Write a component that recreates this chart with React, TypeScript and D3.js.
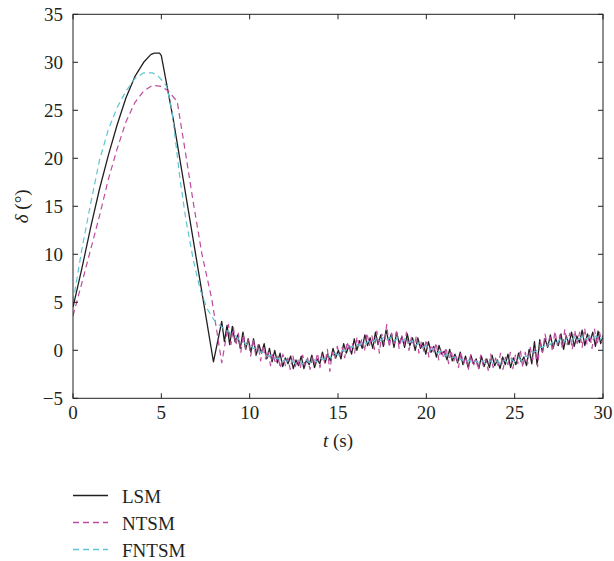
import React from "react";
import * as d3 from "d3";

const timeTicks = [0, 5, 10, 15, 20, 25, 30];
const deltaTicks = [-5, 0, 5, 10, 15, 20, 25, 30, 35];
const seriesNames = ["LSM", "NTSM", "FNTSM"];

// LSM: transient (t, value) then chattering samples
const lsmTransientT = [0, 0.5, 1, 1.5, 2, 2.5, 3, 3.5, 4, 4.4, 4.6, 4.9, 5.0, 5.68, 7.95, 8.42];
const lsmTransientV = [4.5, 8.5, 12.8, 16.8, 20.3, 23.5, 26.3, 28.5, 30.0, 30.8, 30.95, 30.95, 30.7, 24.0, -1.2, 3.0];
const lsmChatterStart = 8.57;
const lsmChatterStep = 0.15;
const lsmChatter = [
  0.9, 2.6, 0.6, 2.5, 0.9, 1.6, 0.2, 1.9, 0.1, 1.2,
  -0.2, 1.2, -0.5, 0.6, -0.3, 0.7, -0.9, 0.2, -1.2, 0.0,
  -1.3, -0.3, -1.7, -0.8, -1.4, -0.6, -1.9, -1.0, -1.6, -0.6,
  -1.9, -1.0, -1.5, -0.5, -1.8, -0.9, -1.4, -0.2, -1.3, -0.4,
  -1.1, 0.2, -0.8, 0.0, -0.9, 0.7, -0.3, 0.5, -0.4, 1.2,
  0.0, 1.0, 0.2, 1.6, 0.5, 1.3, 0.2, 1.9, 0.6, 1.6,
  0.4, 2.1, 0.9, 1.7, 0.3, 1.9, 0.7, 1.4, 0.3, 1.7,
  0.5, 1.3, 0.0, 1.3, 0.2, 0.8, -0.4, 0.9, -0.2, 0.4,
  -0.7, 0.5, -0.4, -0.1, -1.0, 0.1, -1.1, -0.4, -1.3, -0.2,
  -1.5, -0.6, -1.8, -0.5, -1.4, -0.9, -1.9, -0.6, -1.7, -0.9,
  -1.8, -0.5, -1.6, -1.0, -1.9, -0.7, -1.5, -0.4, -1.8, -0.8,
  -1.5, -0.3, -1.2, -0.7, -1.6, 0.1, -1.4, 0.9, -1.5, 1.1,
  -0.2, 1.2, 0.3, 1.6, 0.2, 1.2, 0.5, 1.7, 0.1, 1.5,
  0.6, 1.9, 0.4, 1.5, 0.8, 2.1, 0.5, 1.7, 0.9, 1.9,
  0.4, 2.0, 0.7, 1.6,
];

// NTSM
const ntsmTransientT = [0, 0.5, 1, 1.5, 2, 2.5, 3, 3.5, 4, 4.5, 5, 5.4, 5.9, 6.4, 6.8, 7.3, 7.86, 8.42, 8.8];
const ntsmTransientV = [3.6, 7.0, 10.5, 14.0, 17.8, 21.0, 23.8, 25.8, 27.0, 27.6, 27.5, 27.0, 25.9, 20.2, 15.5, 10.0, 5.3, -1.3, 2.7];
const ntsmChatterStart = 8.94;
const ntsmChatterStep = 0.14;
const ntsmChatter = [
  0.6, 2.4, 0.5, 1.8, -0.2, 1.7, 0.1, 1.1, -0.6, 1.2,
  -0.5, 0.6, -1.1, 0.5, -0.9, -0.1, -1.6, -0.3, -1.4, -0.6,
  -1.9, -0.4, -1.6, -0.8, -2.0, -0.5, -1.7, -0.9, -1.9, -0.5,
  -1.6, -0.8, -2.0, -0.6, -1.5, -0.3, -1.8, -0.4, -1.4, 0.1,
  -2.2, -0.2, -0.9, 0.4, -0.6, 0.3, -0.8, 0.9, -0.2, 0.8,
  -0.3, 1.4, 0.3, 1.2, -0.1, 1.8, 0.5, 1.5, 0.1, 2.0,
  -0.3, 1.7, 0.6, 2.7, 0.3, 1.8, 0.7, 2.1, 0.2, 1.6,
  0.5, 1.9, 0.0, 1.4, 0.4, 1.5, -0.3, 0.9, -0.1, 1.1,
  -0.7, 0.6, -0.3, 0.8, -1.0, 0.2, -0.8, 0.3, -1.4, 0.0,
  -1.2, -0.4, -1.8, -0.2, -1.5, -0.7, -2.0, -0.4, -1.7, -0.8,
  -2.0, -0.5, -1.6, -0.9, -2.1, -0.4, -1.8, -0.8, -1.6, -0.3,
  -2.0, -0.7, -1.5, -0.2, -1.9, -0.5, -1.4, 0.1, -1.8, -0.2,
  -1.4, 0.3, -1.0, 0.2, -1.7, 1.0, -0.2, 1.7, 0.4, 1.4,
  -0.1, 2.0, 0.5, 1.6, 0.2, 2.2, 0.6, 1.8, 0.1, 2.1,
  0.7, 1.9, 0.3, 2.3, 0.6, 1.7, 0.2, 2.2, 0.5, 1.9, 0.8,
];

// FNTSM
const fntsmTransientT = [0, 0.5, 1, 1.5, 2, 2.5, 3, 3.5, 4, 4.5, 4.8, 5.1, 5.3, 5.6, 6.06, 6.4, 6.8, 7.2, 7.6, 8.0];
const fntsmTransientV = [5.0, 10.5, 15.3, 19.8, 23.0, 25.3, 27.0, 28.3, 28.9, 28.9, 28.6, 28.0, 27.5, 25.0, 17.8, 13.5, 9.5, 6.3, 4.3, 3.1];
const fntsmChatterStart = 8.2;
const fntsmChatterStep = 0.2;
const fntsmChatter = [
  2.7, 2.5, 2.1, 2.0, 1.6, 1.5, 1.1, 1.0, 0.6, 0.6,
  0.2, 0.2, -0.2, -0.2, -0.6, -0.5, -0.9, -0.8, -1.2, -1.0,
  -1.3, -1.1, -1.4, -1.1, -1.4, -1.0, -1.3, -0.9, -1.2, -0.8,
  -1.0, -0.5, -0.8, -0.3, -0.5, 0.0, -0.1, 0.4, 0.3, 0.7,
  0.5, 0.9, 0.7, 1.1, 0.9, 1.3, 1.0, 1.4, 1.1, 1.4,
  1.0, 1.3, 0.9, 1.2, 0.8, 1.0, 0.5, 0.8, 0.3, 0.5,
  0.0, 0.2, -0.3, -0.1, -0.6, -0.4, -0.8, -0.7, -1.1, -0.9,
  -1.3, -1.0, -1.4, -1.1, -1.4, -1.1, -1.5, -1.1, -1.4, -1.1,
  -1.4, -1.0, -1.3, -0.9, -1.2, -0.8, -1.1, -0.6, -0.7, -0.2,
  -0.1, 0.3, 0.3, 0.7, 0.6, 1.0, 0.8, 1.2, 0.9, 1.3,
  1.0, 1.4, 1.1, 1.4, 1.1, 1.4, 1.1, 1.5, 1.1, 1.4,
];

type Pt = [number, number];

function buildSeries(tt: number[], tv: number[], start: number, step: number, vals: number[]): Pt[] {
  const pts: Pt[] = tt.map((t, i) => [t, tv[i]] as Pt);
  vals.forEach((v, i) => pts.push([start + i * step, v]));
  return pts;
}

const W = 614;
const H = 561;
const L = 73;
const R = 603;
const T = 14.3;
const B = 398.3;
const FONT = '"Liberation Serif", "Times New Roman", serif';
const INK = "#231f20";
const colors = [INK, "#bd4b9e", "#5ec6d6"];
const dashes = [null, "6,4", "6,4"];

export default function App() {
  const x = d3.scaleLinear().domain([0, 30]).range([L, R]);
  const y = d3.scaleLinear().domain([-5, 35]).range([B, T]);
  const line = d3
    .line<Pt>()
    .x((d) => x(d[0]))
    .y((d) => y(d[1]));

  const series = [
    buildSeries(lsmTransientT, lsmTransientV, lsmChatterStart, lsmChatterStep, lsmChatter),
    buildSeries(ntsmTransientT, ntsmTransientV, ntsmChatterStart, ntsmChatterStep, ntsmChatter),
    buildSeries(fntsmTransientT, fntsmTransientV, fntsmChatterStart, fntsmChatterStep, fntsmChatter),
  ];
  const tickLen = 5;
  const legendY = [495.5, 522.5, 549.5];
  const fs = 19;

  return (
    <svg width={W} height={H} style={{ position: "absolute", left: 0, top: 0, background: "#fff" }} fontFamily={FONT}>
      <defs>
        <clipPath id="plotClip">
          <rect x={L} y={T} width={R - L} height={B - T} />
        </clipPath>
      </defs>
      <g clipPath="url(#plotClip)">
        {[0, 1, 2].map((i) => (
          <path
            key={i}
            d={line(series[i]) || ""}
            fill="none"
            stroke={colors[i]}
            strokeWidth={i === 0 ? 1.3 : 1.2}
            strokeDasharray={dashes[i] || undefined}
            strokeLinejoin="round"
          />
        ))}
      </g>
      <rect x={L} y={T} width={R - L} height={B - T} fill="none" stroke={INK} strokeWidth={1} />
      {timeTicks.map((t) => (
        <g key={"xt" + t}>
          <line x1={x(t)} x2={x(t)} y1={B} y2={B - tickLen} stroke={INK} />
          <line x1={x(t)} x2={x(t)} y1={T} y2={T + tickLen} stroke={INK} />
          <text x={x(t)} y={B + 21} textAnchor="middle" fontSize={fs} fill={INK}>
            {t}
          </text>
        </g>
      ))}
      {deltaTicks.map((v) => (
        <g key={"yt" + v}>
          <line x1={L} x2={L + tickLen} y1={y(v)} y2={y(v)} stroke={INK} />
          <line x1={R} x2={R - tickLen} y1={y(v)} y2={y(v)} stroke={INK} />
          <text x={L - 10} y={y(v)} dy="0.35em" textAnchor="end" fontSize={fs} fill={INK}>
            {v < 0 ? "\u2212" + Math.abs(v) : v}
          </text>
        </g>
      ))}
      <text x={(L + R) / 2} y={447} textAnchor="middle" fontSize={fs} fill={INK}>
        <tspan fontStyle="italic">t</tspan> (s)
      </text>
      <text transform={`translate(28,${(T + B) / 2}) rotate(-90)`} textAnchor="middle" fontSize={fs} fill={INK}>
        <tspan fontStyle="italic">δ</tspan> (°)
      </text>
      {seriesNames.map((name, i) => (
        <g key={name}>
          <line
            x1={73}
            x2={108}
            y1={legendY[i]}
            y2={legendY[i]}
            stroke={colors[i]}
            strokeWidth={1.3}
            strokeDasharray={dashes[i] || undefined}
          />
          <text x={122} y={legendY[i] + 7} fontSize={fs} fill={INK}>
            {name}
          </text>
        </g>
      ))}
    </svg>
  );
}
